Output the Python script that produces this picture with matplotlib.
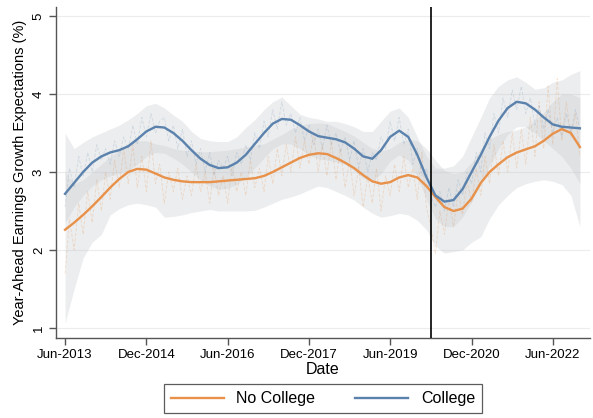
import numpy as np
import pandas as pd
import matplotlib
matplotlib.use("Agg")
import matplotlib.pyplot as plt
import matplotlib.dates as mdates

plt.rcParams['font.family'] = ['Liberation Sans', 'DejaVu Sans']

# ---------------- data ----------------
start_month = "2013-06-01"
n_months = 115
event_date = "2020-03-01"
tick_dates = ["2013-06-01", "2014-12-01", "2016-06-01", "2017-12-01",
              "2019-06-01", "2020-12-01", "2022-06-01"]
tick_labels = ["Jun-2013", "Dec-2014", "Jun-2016", "Dec-2017",
               "Jun-2019", "Dec-2020", "Jun-2022"]

# smoothed series, every 2 months from Jun-2013
college_smooth = [2.72, 2.86, 3.0, 3.12, 3.2, 3.25, 3.28, 3.33, 3.42, 3.52,
                  3.58, 3.57, 3.5, 3.4, 3.28, 3.17, 3.09, 3.05, 3.06, 3.12,
                  3.22, 3.36, 3.5, 3.62, 3.68, 3.67, 3.6, 3.52, 3.46, 3.44,
                  3.42, 3.38, 3.3, 3.2, 3.17, 3.28, 3.45, 3.53, 3.45, 3.22,
                  2.93, 2.7, 2.62, 2.64, 2.78, 3.0, 3.22, 3.45, 3.66, 3.82,
                  3.9, 3.88, 3.8, 3.7, 3.61, 3.58, 3.57, 3.56]
nocollege_smooth = [2.26, 2.35, 2.45, 2.56, 2.68, 2.8, 2.91, 3.0, 3.04, 3.03,
                    2.98, 2.93, 2.9, 2.88, 2.87, 2.87, 2.87, 2.88, 2.89, 2.9,
                    2.91, 2.92, 2.95, 3.0, 3.06, 3.12, 3.18, 3.22, 3.24, 3.23,
                    3.18, 3.12, 3.05, 2.96, 2.88, 2.85, 2.87, 2.93, 2.96, 2.93,
                    2.82, 2.68, 2.55, 2.5, 2.53, 2.66, 2.86, 3.0, 3.1, 3.19,
                    3.25, 3.29, 3.33, 3.4, 3.49, 3.55, 3.5, 3.32]

# confidence bands, every 2 months
college_upper = [3.5, 3.3, 3.38, 3.45, 3.5, 3.55, 3.6, 3.67, 3.75, 3.85,
                 3.88, 3.82, 3.73, 3.65, 3.52, 3.43, 3.4, 3.39, 3.39, 3.45,
                 3.57, 3.67, 3.8, 3.9, 3.96, 3.85, 3.74, 3.7, 3.68, 3.65,
                 3.65, 3.62, 3.58, 3.52, 3.52, 3.65, 3.78, 3.82, 3.7, 3.45,
                 3.2, 3.05, 3.05, 3.08, 3.2, 3.45, 3.7, 3.95, 4.1, 4.18,
                 4.22, 4.15, 4.06, 4.08, 4.15, 4.18, 4.25, 4.3]
college_lower = [2.35, 2.55, 2.7, 2.82, 2.9, 2.95, 2.98, 3.02, 3.1, 3.2,
                 3.25, 3.24, 3.18, 3.1, 3.0, 2.9, 2.82, 2.78, 2.79, 2.84,
                 2.93, 3.05, 3.18, 3.3, 3.36, 3.36, 3.3, 3.22, 3.17, 3.15,
                 3.13, 3.1, 3.02, 2.92, 2.88, 2.98, 3.14, 3.22, 3.15, 2.94,
                 2.65, 2.4, 2.3, 2.3, 2.42, 2.62, 2.85, 3.08, 3.3, 3.48,
                 3.58, 3.58, 3.5, 3.4, 3.3, 3.2, 3.05, 2.85]
nocollege_upper = [3.0, 2.85, 2.9, 3.0, 3.1, 3.2, 3.28, 3.36, 3.4, 3.4,
                   3.36, 3.34, 3.3, 3.28, 3.27, 3.26, 3.26, 3.27, 3.28, 3.3,
                   3.32, 3.34, 3.36, 3.42, 3.48, 3.55, 3.6, 3.62, 3.63, 3.62,
                   3.57, 3.52, 3.46, 3.38, 3.3, 3.27, 3.3, 3.38, 3.42, 3.4,
                   3.3, 3.15, 3.02, 2.98, 3.0, 3.12, 3.3, 3.42, 3.48, 3.52,
                   3.54, 3.58, 3.66, 3.76, 3.9, 4.0, 4.0, 3.95]
nocollege_lower = [1.06, 1.5, 1.9, 2.1, 2.2, 2.45, 2.53, 2.58, 2.6, 2.58,
                   2.55, 2.42, 2.43, 2.45, 2.48, 2.5, 2.52, 2.5, 2.5, 2.5,
                   2.5, 2.51, 2.55, 2.6, 2.65, 2.68, 2.72, 2.77, 2.82, 2.8,
                   2.75, 2.7, 2.64, 2.55, 2.47, 2.42, 2.44, 2.47, 2.45, 2.38,
                   2.26, 2.05, 1.96, 1.98, 2.0, 2.1, 2.17, 2.4, 2.58, 2.7,
                   2.8, 2.85, 2.88, 2.9, 2.88, 2.84, 2.7, 2.3]

# raw monthly series
college_raw = [2.55, 3.05, 2.8, 3.2, 2.95, 3.25, 3.0, 3.35, 3.15, 3.3,
               3.1, 3.4, 3.2, 3.45, 3.3, 3.6, 3.35, 3.7, 3.45, 3.75,
               3.5, 3.65, 3.7, 3.4, 3.6, 3.3, 3.55, 3.2, 3.4, 3.1,
               3.3, 3.0, 3.25, 2.95, 3.15, 3.05, 3.2, 2.95, 3.25, 3.1,
               3.35, 3.15, 3.5, 3.3, 3.65, 3.45, 3.8, 3.55, 3.9, 3.6,
               3.75, 3.5, 3.7, 3.4, 3.6, 3.35, 3.55, 3.3, 3.6, 3.35,
               3.5, 3.25, 3.45, 3.15, 3.4, 3.05, 3.3, 3.0, 3.25, 3.15,
               3.45, 3.3, 3.65, 3.4, 3.7, 3.35, 3.55, 3.1, 3.3, 2.95,
               3.05, 2.7, 2.55, 2.75, 2.5, 2.8, 2.55, 2.9, 2.7, 3.0,
               2.85, 3.25, 3.0, 3.5, 3.3, 3.75, 3.5, 3.95, 3.7, 4.05,
               3.8, 4.1, 3.75, 3.95, 3.6, 3.85, 3.55, 3.8, 3.5, 3.7,
               3.45, 3.75, 3.5, 3.8, 3.55]
nocollege_raw = [1.7, 2.4, 2.0, 2.6, 2.2, 2.75, 2.35, 2.9, 2.5, 3.0,
                 2.65, 3.15, 2.8, 3.3, 2.85, 3.35, 2.8, 3.2, 2.75, 3.4,
                 2.85, 3.1, 2.6, 3.0, 2.75, 3.05, 2.65, 2.95, 2.7, 3.1,
                 2.75, 3.0, 2.6, 3.05, 2.7, 2.95, 2.6, 3.1, 2.75, 3.0,
                 2.7, 3.15, 2.8, 3.05, 2.75, 3.2, 2.85, 3.3, 2.95, 3.35,
                 3.0, 3.45, 3.05, 3.4, 3.1, 3.5, 3.0, 3.35, 2.95, 3.4,
                 2.9, 3.3, 2.8, 3.15, 2.7, 3.05, 2.55, 2.95, 2.6, 3.05,
                 2.5, 2.95, 2.7, 3.1, 2.75, 3.2, 2.8, 3.05, 2.65, 3.25,
                 2.55, 2.3, 1.95, 2.5, 2.2, 2.65, 2.3, 2.75, 2.45, 2.9,
                 2.6, 3.05, 2.7, 3.2, 2.85, 3.35, 2.95, 3.4, 3.0, 3.5,
                 3.05, 3.55, 3.1, 3.7, 3.2, 3.9, 3.3, 4.1, 3.35, 4.2,
                 3.4, 3.9, 3.45, 3.75, 3.2]

# ---------------- plot ----------------
months = pd.date_range(start_month, periods=n_months, freq="MS")
months2 = months[::2]

orange = "#e8914a"
blue = "#5a82ad"
band_col = "#c4c8cc"

fig = plt.figure(figsize=(5.93, 4.18), dpi=100)
ax = fig.add_axes([56/593, 1-338/418, (590-56)/593, (338-7)/418])

ax.fill_between(months2, nocollege_lower, nocollege_upper, color=band_col,
                alpha=0.32, linewidth=0, zorder=1)
ax.fill_between(months2, college_lower, college_upper, color=band_col,
                alpha=0.32, linewidth=0, zorder=1)

ax.plot(months, nocollege_raw, color=orange, lw=0.6, ls=(0, (4, 2)),
        alpha=0.25, zorder=2)
ax.plot(months, college_raw, color=blue, lw=0.6, ls=(0, (4, 2)),
        alpha=0.2, zorder=2)

ax.plot(months2, nocollege_smooth, color=orange, lw=1.7, zorder=3,
        label="No College")
ax.plot(months2, college_smooth, color=blue, lw=1.7, zorder=3,
        label="College")

ax.axvline(pd.Timestamp(event_date), color="black", lw=1.2, zorder=4)

ax.set_ylim(0.872, 5.115)
ax.set_xlim(pd.Timestamp("2013-04-01"), pd.Timestamp("2023-02-07"))
ax.set_yticks([1, 2, 3, 4, 5])
ax.set_yticklabels(["1", "2", "3", "4", "5"], rotation=90, va="center")
ax.set_xticks([pd.Timestamp(d) for d in tick_dates])
ax.set_xticklabels(tick_labels)
ax.grid(axis="y", color="#ececec", lw=0.8)
ax.set_axisbelow(True)

for s in ["top", "right"]:
    ax.spines[s].set_visible(False)
for s in ["left", "bottom"]:
    ax.spines[s].set_color("#555555")
    ax.spines[s].set_linewidth(1.0)
ax.tick_params(axis="both", direction="out", length=5, width=1.0,
               color="#555555", labelsize=9.5, pad=3)

ax.set_ylabel("Year-Ahead Earnings Growth Expectations (%)", fontsize=10.5,
              labelpad=4)
ax.set_xlabel("Date", fontsize=11.5, labelpad=1)

leg = fig.legend(loc="upper center", bbox_to_anchor=(323/593, 1-376/418),
                 ncol=2, frameon=True, fancybox=False, fontsize=11.5,
                 handlelength=3.3, columnspacing=2.5, borderpad=0.45,
                 handletextpad=0.8)
leg.get_frame().set_edgecolor("#333333")
leg.get_frame().set_linewidth(0.9)

fig.savefig("out.png", dpi=100, facecolor="white")
